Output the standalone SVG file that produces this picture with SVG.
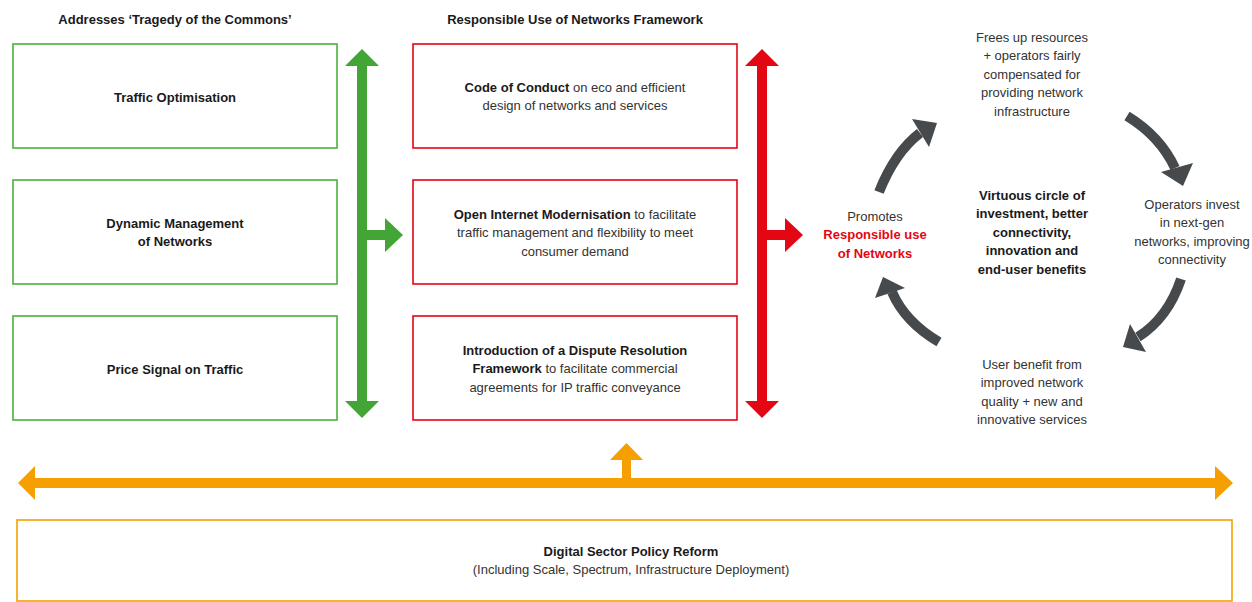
<svg xmlns="http://www.w3.org/2000/svg" width="1252" height="602" viewBox="0 0 1252 602">
<style>
text{font-family:"Liberation Sans",Arial,sans-serif;font-size:13px;fill:#333;text-anchor:middle}
.b{font-weight:bold;fill:#1a1a1a}
.rb{font-weight:bold;fill:#e30613}
.g{fill:#fff;stroke:#4caf3c;stroke-width:1.6}
.r{fill:#fff;stroke:#e30613;stroke-width:1.6}
.o{fill:#fff;stroke:#f5a000;stroke-width:1.6}
.ga{fill:#43a535}
.ra{fill:#e30613}
.oa{fill:#f5a000}
.cs{fill:none;stroke:#474a4c;stroke-width:10}
.ch{fill:#474a4c}
</style>
<rect width="1252" height="602" fill="#fff"/>
<g id="headers">
<text class="b" x="175" y="23.5">Addresses ‘Tragedy of the Commons’</text>
<text class="b" x="575" y="23.5">Responsible Use of Networks Framework</text>
</g>
<g id="traffic-optimisation">
<rect class="g" x="13" y="44" width="324" height="104"/>
<text class="b" x="175" y="101.5">Traffic Optimisation</text>
</g>
<g id="dynamic-management">
<rect class="g" x="13" y="180" width="324" height="104"/>
<text class="b" x="175" y="227.5">Dynamic Management</text>
<text class="b" x="175" y="246">of Networks</text>
</g>
<g id="price-signal">
<rect class="g" x="13" y="316" width="324" height="104"/>
<text class="b" x="175" y="373.5">Price Signal on Traffic</text>
</g>
<g id="code-of-conduct">
<rect class="r" x="413" y="44" width="324" height="104"/>
<text x="575" y="91.5"><tspan class="b">Code of Conduct</tspan> on eco and efficient</text>
<text x="575" y="110">design of networks and services</text>
</g>
<g id="open-internet">
<rect class="r" x="413" y="180" width="324" height="104"/>
<text x="575" y="218.5"><tspan class="b">Open Internet Modernisation</tspan> to facilitate</text>
<text x="575" y="237">traffic management and flexibility to meet</text>
<text x="575" y="255.5">consumer demand</text>
</g>
<g id="dispute-resolution">
<rect class="r" x="413" y="316" width="324" height="104"/>
<text class="b" x="575" y="354.5">Introduction of a Dispute Resolution</text>
<text x="575" y="373"><tspan class="b">Framework</tspan> to facilitate commercial</text>
<text x="575" y="391.5">agreements for IP traffic conveyance</text>
</g>
<g id="promotes">
<text x="875" y="220.5">Promotes</text>
<text class="rb" x="875" y="239">Responsible use</text>
<text class="rb" x="875" y="257.5">of Networks</text>
</g>
<g id="frees-up">
<text x="1032" y="41.5">Frees up resources</text>
<text x="1032" y="60">+ operators fairly</text>
<text x="1032" y="78.5">compensated for</text>
<text x="1032" y="97">providing network</text>
<text x="1032" y="115.5">infrastructure</text>
</g>
<g id="virtuous-circle">
<text class="b" x="1032" y="199.5">Virtuous circle of</text>
<text class="b" x="1032" y="218">investment, better</text>
<text class="b" x="1032" y="236.5">connectivity,</text>
<text class="b" x="1032" y="255">innovation and</text>
<text class="b" x="1032" y="274">end-user benefits</text>
</g>
<g id="operators-invest">
<text x="1192" y="208.5">Operators invest</text>
<text x="1192" y="227">in next-gen</text>
<text x="1192" y="245.5">networks, improving</text>
<text x="1192" y="264">connectivity</text>
</g>
<g id="user-benefit">
<text x="1032" y="368.5">User benefit from</text>
<text x="1032" y="387">improved network</text>
<text x="1032" y="405.5">quality + new and</text>
<text x="1032" y="424">innovative services</text>
</g>
<g id="policy-reform">
<rect class="o" x="17" y="520" width="1215" height="81"/>
<text class="b" x="631" y="555.5">Digital Sector Policy Reform</text>
<text x="631" y="574">(Including Scale, Spectrum, Infrastructure Deployment)</text>
</g>
<g id="connectors">
<polygon class="ga" points="362,49 379,66 367,66 367,230 385,230 385,218 403,235 385,252 385,240 367,240 367,401 379,401 362,418 345,401 357,401 357,66 345,66"/>
<polygon class="ra" points="762,49 779,66 767,66 767,230 785,230 785,218 803,235 785,252 785,240 767,240 767,401 779,401 762,418 745,401 757,401 757,66 745,66"/>
<polygon class="oa" points="18,483 35,466 35,478 622,478 622,460 610,460 626.5,443 643,460 631,460 631,478 1215,478 1215,466 1233,483 1215,500 1215,488 35,488 35,500"/>
<path class="cs" d="M879,192 Q895,152 920,133"/>
<polygon class="ch" points="937,123 912,119 929,147"/>
<path class="cs" d="M1127,116 Q1160,136 1175,168"/>
<polygon class="ch" points="1183,186 1161,172 1193,163"/>
<path class="cs" d="M1181,279 Q1168,318 1138,337"/>
<polygon class="ch" points="1123,347 1130,324 1146,352"/>
<path class="cs" d="M939,342 Q905,322 892,292"/>
<polygon class="ch" points="883,277 875,298 905,288"/>
</g>
</svg>
